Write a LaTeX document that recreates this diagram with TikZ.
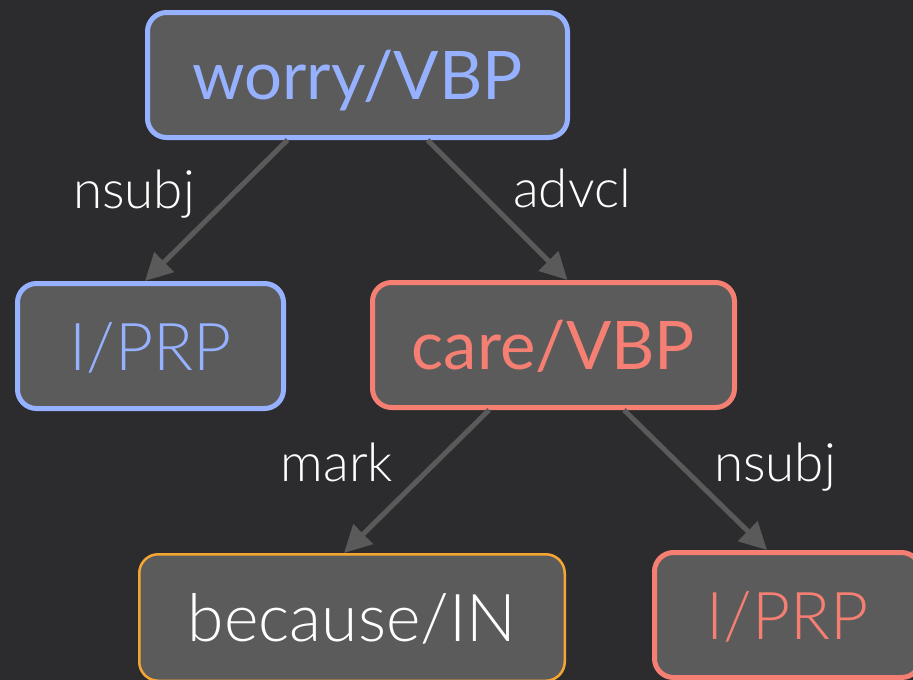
\documentclass[tikz,border=0pt]{standalone}
\usepackage{fontspec}
\setmainfont{Lato}
\newfontfamily\lightfont{Lato Light}
\usetikzlibrary{arrows.meta}
\definecolor{bg}{HTML}{2C2C2E}
\definecolor{boxfill}{HTML}{5B5B5B}
\definecolor{nblue}{HTML}{96B1FF}
\definecolor{nred}{HTML}{F67F73}
\definecolor{norange}{HTML}{F5A531}
\definecolor{edgec}{HTML}{5A5A5A}
\begin{document}
\begin{tikzpicture}[x=1pt,y=-1pt,
  box/.style={rounded corners=19pt, fill=boxfill, inner sep=0pt,
    text height=48pt, text depth=0pt},
  boldtxt/.style={font=\fontsize{67}{67}\selectfont},
  lighttxt/.style={font=\lightfont\fontsize{66}{66}\selectfont},
  bluebox/.style={box, draw=nblue, line width=5pt, text=nblue},
  redbox/.style={box, draw=nred, line width=5pt, text=nred},
  orangebox/.style={box, draw=norange, line width=2.5pt, text=white},
  edge/.style={draw=edgec, line width=5pt, -{Triangle[length=27pt,width=27pt]}},
  lab/.style={text=white, font=\lightfont\fontsize{53}{53}\selectfont, anchor=base, inner sep=0pt}]
\fill[bg] (0,0) rectangle (913,680);
\useasboundingbox (0,0) rectangle (913,680);
\node[bluebox, boldtxt, minimum width=420pt, minimum height=125pt] (worry) at (357.5,75) {worry/VBP};
\node[bluebox, lighttxt, minimum width=266pt, minimum height=125pt] (iprpa) at (150.5,346) {I/PRP};
\node[redbox, boldtxt, minimum width=362pt, minimum height=125pt] (care) at (553.5,345) {care/VBP};
\node[orangebox, lighttxt, minimum width=425.5pt, minimum height=126.5pt] (because) at (352,617.5) {because/IN};
\node[redbox, lighttxt, minimum width=266pt, minimum height=125pt] (iprpb) at (787.5,615) {I/PRP};
\draw[edge] ([xshift=-70pt]worry.south) -- ([xshift=-5.5pt]iprpa.north);
\draw[edge] ([xshift=70pt]worry.south) -- ([xshift=14pt]care.north);
\draw[edge] ([xshift=-64.5pt]care.south) -- ([xshift=-8pt]because.north);
\draw[edge] ([xshift=70.5pt]care.south) -- ([xshift=-20.5pt]iprpb.north);
\node[lab] (l1) at (134,208) {nsubj};
\node[lab] (l2) at (572,207) {advcl};
\node[lab] (l3) at (337,481) {mark};
\node[lab] (l4) at (775,481) {nsubj};
\end{tikzpicture}
\end{document}
